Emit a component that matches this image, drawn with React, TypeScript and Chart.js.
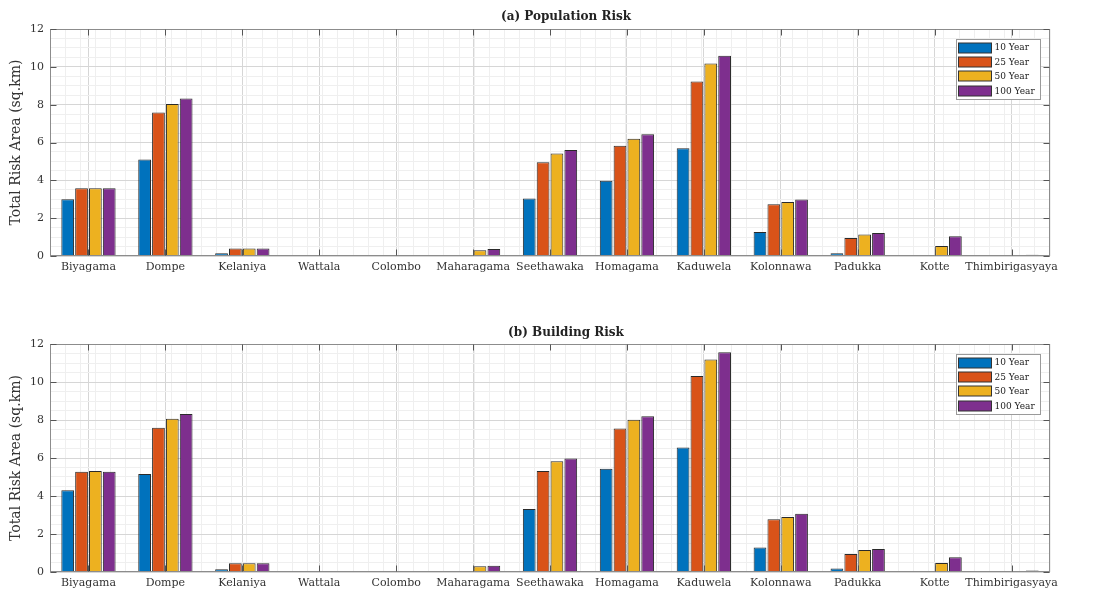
import React, { useEffect, useRef } from "react";
import { Chart, registerables } from "chart.js";
Chart.register(...registerables);

const categories = [
  "Biyagama", "Dompe", "Kelaniya", "Wattala", "Colombo", "Maharagama", "Seethawaka",
  "Homagama", "Kaduwela", "Kolonnawa", "Padukka", "Kotte", "Thimbirigasyaya",
];
const seriesLabels = ["10 Year", "25 Year", "50 Year", "100 Year"];
const seriesColors = ["#0072BD", "#D95319", "#EDB120", "#7E2F8E"];

// (a) Population Risk
const pop10 = [3.0, 5.1, 0.15, 0.0, 0, 0.0, 3.04, 3.98, 5.7, 1.27, 0.15, 0.0, 0.0];
const pop25 = [3.58, 7.58, 0.4, 0.02, 0, 0.02, 4.95, 5.83, 9.22, 2.74, 0.95, 0.02, 0.02];
const pop50 = [3.58, 8.04, 0.4, 0.03, 0, 0.3, 5.42, 6.2, 10.18, 2.86, 1.13, 0.53, 0.04];
const pop100 = [3.58, 8.32, 0.4, 0.05, 0, 0.37, 5.6, 6.43, 10.58, 2.99, 1.22, 1.04, 0.07];

// (b) Building Risk
const bld10 = [4.3, 5.16, 0.15, 0.02, 0, 0.02, 3.31, 5.44, 6.55, 1.29, 0.19, 0.02, 0];
const bld25 = [5.28, 7.59, 0.46, 0.03, 0, 0.05, 5.32, 7.55, 10.32, 2.78, 0.95, 0.02, 0];
const bld50 = [5.32, 8.06, 0.46, 0.03, 0, 0.3, 5.83, 8.01, 11.18, 2.9, 1.16, 0.48, 0.02];
const bld100 = [5.28, 8.31, 0.46, 0.03, 0, 0.33, 5.97, 8.2, 11.57, 3.06, 1.21, 0.77, 0.08];

const titleA = "(a) Population Risk";
const titleB = "(b) Building Risk";
const yTitle = "Total Risk Area (sq.km)";
const yMin = 0;
const yMax = 12;
const yMajorStep = 2;
const yMinorStep = 0.5;
const xMinorStep = 0.2;

const FONT = '"DejaVu Serif", serif';

const framePlugin = {
  id: "frame",
  afterDraw(chart: any, _args: any, opts: any) {
    const { ctx, chartArea: a, scales } = chart;
    ctx.save();
    const L = Math.round(a.left) + 0.5;
    const R = Math.round(a.right) - 0.5;
    const T = Math.round(a.top) + 0.5;
    const B = Math.round(a.bottom) - 0.5;
    ctx.strokeStyle = "#8c8c8c";
    ctx.lineWidth = 1;
    ctx.strokeRect(L, T, R - L, B - T);
    // inward ticks
    ctx.strokeStyle = "#555";
    ctx.beginPath();
    categories.forEach((_c, i) => {
      const x = Math.round(scales.x.getPixelForValue(i)) + 0.5;
      ctx.moveTo(x, B);
      ctx.lineTo(x, B - 6);
      ctx.moveTo(x, T);
      ctx.lineTo(x, T + 6);
    });
    for (let v = yMin; v <= yMax; v += yMajorStep) {
      const y = Math.round(scales.y.getPixelForValue(v)) + 0.5;
      ctx.moveTo(L, y);
      ctx.lineTo(L + 6, y);
      ctx.moveTo(R, y);
      ctx.lineTo(R - 6, y);
    }
    ctx.stroke();
    // title
    ctx.fillStyle = "#222";
    ctx.font = `bold 12px ${FONT}`;
    ctx.textAlign = "center";
    ctx.textBaseline = "middle";
    ctx.fillText(opts.text, opts.titleX, opts.titleY);
    // legend
    const w = 84;
    const h = 60;
    const lx = Math.round(a.right) - 10 - w + 0.5;
    const ly = Math.round(a.top) + 10 + 0.5;
    ctx.fillStyle = "#ffffff";
    ctx.fillRect(lx, ly, w, h);
    ctx.strokeStyle = "#9a9a9a";
    ctx.strokeRect(lx, ly, w, h);
    chart.data.datasets.forEach((ds: any, i: number) => {
      const cy = ly + 8 + i * 14.4;
      ctx.fillStyle = ds.backgroundColor;
      ctx.fillRect(lx + 2, Math.round(cy - 5), 33, 10);
      ctx.strokeStyle = "#333";
      ctx.strokeRect(lx + 2, Math.round(cy - 5), 33, 10);
      ctx.fillStyle = "#222";
      ctx.font = `9px ${FONT}`;
      ctx.textAlign = "left";
      ctx.textBaseline = "middle";
      ctx.fillText(ds.label, lx + 38, cy + 0.5);
    });
    ctx.restore();
  },
};

function makeConfig(title: string, series: number[][], padTop: number, xHeight: number, titleY: number): any {
  return {
    type: "bar",
    data: {
      labels: categories,
      datasets: series.map((vals, i) => ({
        label: seriesLabels[i],
        data: vals,
        backgroundColor: seriesColors[i],
        borderColor: "#2a2a2a",
        borderWidth: 1,
        categoryPercentage: 0.72,
        barPercentage: 0.92,
        xAxisID: "x",
        yAxisID: "y",
      })),
    },
    plugins: [framePlugin],
    options: {
      animation: false,
      responsive: false,
      devicePixelRatio: 1,
      layout: { padding: { top: padTop, right: 48, bottom: 0, left: 0 } },
      plugins: {
        legend: { display: false },
        title: { display: false },
        tooltip: { enabled: false },
        frame: { text: title, titleX: 566, titleY },
      },
      scales: {
        x: {
          type: "category",
          position: "bottom",
          offset: true,
          grid: { offset: false, color: "#d6d6d6", drawTicks: false },
          border: { display: false },
          ticks: {
            autoSkip: false,
            maxRotation: 0,
            minRotation: 0,
            padding: 5,
            color: "#333",
            font: { family: FONT, size: 11 },
          },
          afterFit: (s: any) => {
            s.height = xHeight;
          },
        },
        xm: {
          type: "linear",
          position: "bottom",
          min: -0.5,
          max: categories.length - 0.5,
          grid: { color: "#efefef", drawTicks: false },
          border: { display: false },
          ticks: { display: false, stepSize: xMinorStep, autoSkip: false },
          afterFit: (s: any) => {
            s.height = 0;
          },
        },
        y: {
          type: "linear",
          min: yMin,
          max: yMax,
          grid: {
            drawTicks: false,
            color: (c: any) =>
              Math.abs(c.tick.value / yMajorStep - Math.round(c.tick.value / yMajorStep)) < 1e-6
                ? "#d6d6d6"
                : "#efefef",
          },
          border: { display: false },
          ticks: {
            stepSize: yMinorStep,
            autoSkip: false,
            padding: 6,
            color: "#333",
            font: { family: FONT, size: 11 },
            callback: (v: any) =>
              Math.abs(v / yMajorStep - Math.round(v / yMajorStep)) < 1e-6 ? String(v) : "",
          },
          title: {
            display: true,
            text: yTitle,
            color: "#333",
            font: { family: FONT, size: 14 },
            padding: { top: 8, bottom: 0 },
          },
          afterFit: (s: any) => {
            s.width = 50;
          },
        },
      },
    },
  };
}

export default function App() {
  const ref1 = useRef<HTMLCanvasElement>(null);
  const ref2 = useRef<HTMLCanvasElement>(null);
  useEffect(() => {
    const c1 = new Chart(ref1.current as HTMLCanvasElement, makeConfig(titleA, [pop10, pop25, pop50, pop100], 29, 44, 17));
    const c2 = new Chart(ref2.current as HTMLCanvasElement, makeConfig(titleB, [bld10, bld25, bld50, bld100], 44, 25, 33));
    return () => {
      c1.destroy();
      c2.destroy();
    };
  }, []);
  return (
    <div style={{ position: "fixed", left: 0, top: 0, width: 1098, height: 597, background: "#fff" }}>
      <canvas ref={ref1} width={1098} height={300} style={{ position: "absolute", left: 0, top: 0, width: 1098, height: 300 }} />
      <canvas ref={ref2} width={1098} height={297} style={{ position: "absolute", left: 0, top: 300, width: 1098, height: 297 }} />
    </div>
  );
}
